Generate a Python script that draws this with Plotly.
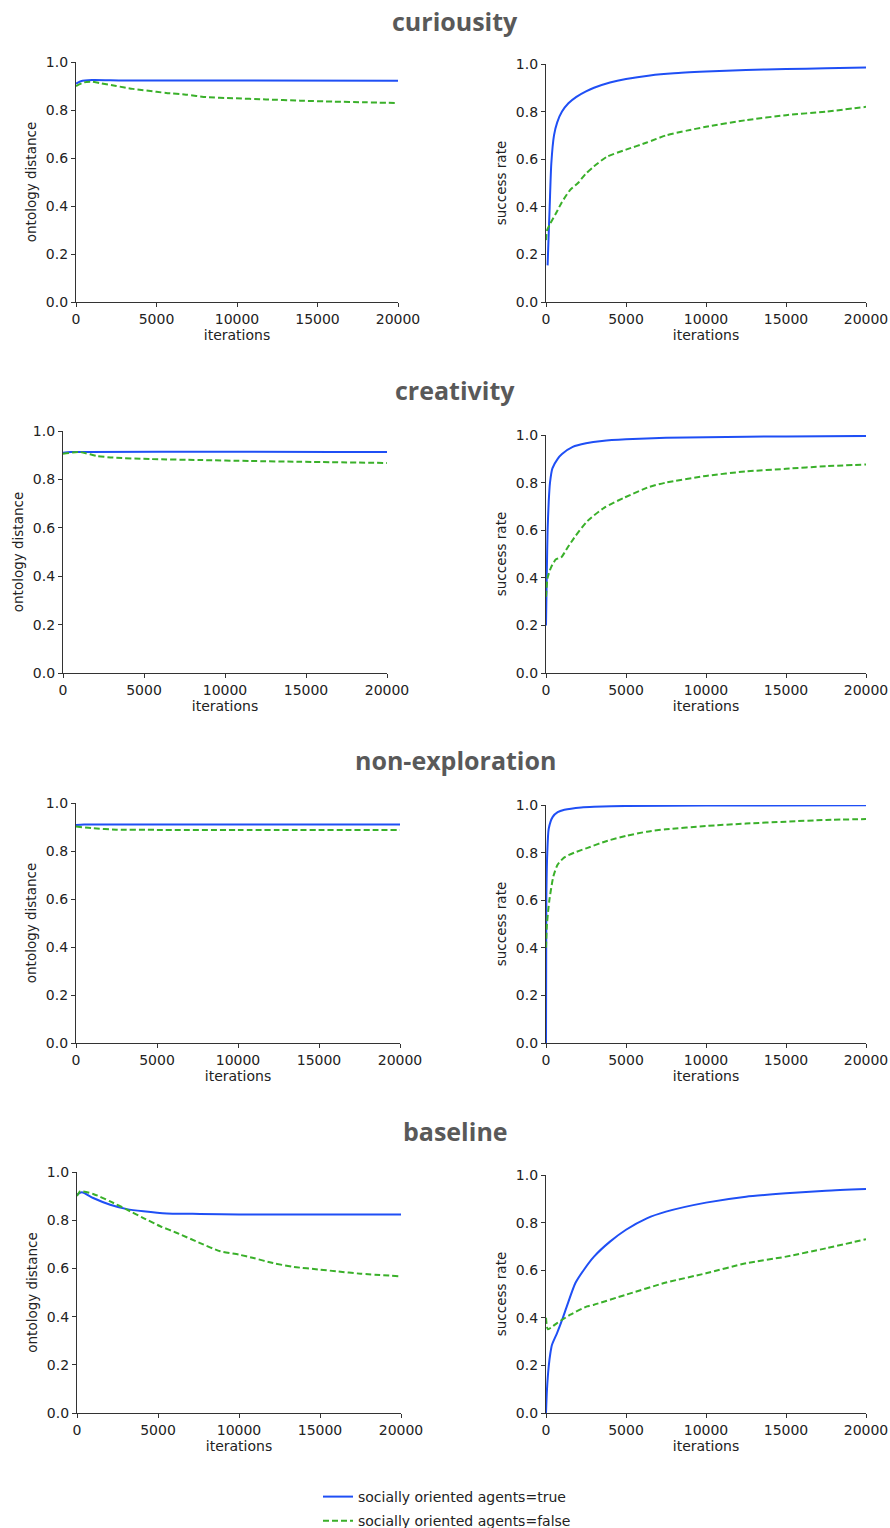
import plotly.graph_objects as go

W, H = 890, 1528

# ---------------- data ----------------
sections = ["curiousity", "creativity", "non-exploration", "baseline"]
series_names = ["socially oriented agents=true", "socially oriented agents=false"]
x_ticks = [0, 5000, 10000, 15000, 20000]
y_ticks = [0.0, 0.2, 0.4, 0.6, 0.8, 1.0]

# curiousity
cur_onto_true_x = [0, 300, 1000, 3000, 20000]
cur_onto_true_y = [0.91, 0.92, 0.925, 0.923, 0.922]
cur_onto_false_x = [0, 500, 1000, 1450, 2500, 3520, 5000, 5600, 6840, 8080, 9740, 11800, 13900, 15960, 18000, 20000]
cur_onto_false_y = [0.90, 0.915, 0.918, 0.912, 0.90, 0.888, 0.876, 0.871, 0.864, 0.854, 0.849, 0.844, 0.839, 0.835, 0.832, 0.829]
cur_succ_true_x = [100, 230, 330, 500, 700, 1000, 1400, 1900, 2500, 3000, 4000, 5000, 6500, 8000, 10000, 12500, 15000, 17500, 20000]
cur_succ_true_y = [0.154, 0.40, 0.58, 0.70, 0.755, 0.80, 0.835, 0.862, 0.885, 0.90, 0.922, 0.937, 0.952, 0.961, 0.968, 0.975, 0.979, 0.982, 0.985]
cur_succ_false_x = [0, 60, 270, 600, 1000, 1500, 2000, 2500, 3000, 3800, 5000, 6300, 7500, 8800, 10000, 12500, 15000, 17500, 20000]
cur_succ_false_y = [0.26, 0.30, 0.33, 0.37, 0.42, 0.47, 0.50, 0.54, 0.57, 0.61, 0.64, 0.67, 0.70, 0.72, 0.736, 0.764, 0.785, 0.80, 0.82]

# creativity
cre_onto_true_x = [0, 500, 20000]
cre_onto_true_y = [0.91, 0.913, 0.913]
cre_onto_false_x = [0, 1050, 2080, 3100, 5375, 8460, 11550, 14640, 20000]
cre_onto_false_y = [0.906, 0.913, 0.897, 0.89, 0.884, 0.880, 0.876, 0.873, 0.868]
cre_succ_true_x = [0, 50, 100, 170, 250, 400, 730, 1000, 1670, 2500, 3500, 5000, 7500, 10000, 15000, 20000]
cre_succ_true_y = [0.20, 0.42, 0.60, 0.72, 0.80, 0.86, 0.90, 0.92, 0.95, 0.965, 0.975, 0.982, 0.988, 0.991, 0.994, 0.996]
cre_succ_false_x = [0, 100, 310, 625, 940, 1350, 1770, 2600, 3650, 4900, 6460, 7500, 10000, 12500, 15000, 17500, 20000]
cre_succ_false_y = [0.32, 0.40, 0.443, 0.478, 0.485, 0.527, 0.569, 0.639, 0.695, 0.737, 0.782, 0.80, 0.828, 0.847, 0.858, 0.869, 0.876]

# non-exploration
non_onto_true_x = [0, 500, 20000]
non_onto_true_y = [0.908, 0.91, 0.91]
non_onto_false_x = [0, 1000, 2500, 5000, 10000, 20000]
non_onto_false_y = [0.902, 0.895, 0.889, 0.888, 0.888, 0.887]
non_succ_true_x = [0, 20, 80, 170, 420, 730, 1150, 2200, 3000, 5000, 10000, 20000]
non_succ_true_y = [0.0, 0.6, 0.8, 0.9, 0.95, 0.97, 0.98, 0.99, 0.993, 0.996, 0.998, 0.999]
non_succ_false_x = [0, 60, 210, 460, 730, 1150, 1770, 2600, 3850, 5000, 6300, 7500, 10000, 12500, 15000, 17500, 20000]
non_succ_false_y = [0.40, 0.50, 0.60, 0.70, 0.75, 0.78, 0.80, 0.82, 0.85, 0.87, 0.888, 0.898, 0.912, 0.922, 0.93, 0.937, 0.941]

# baseline
bas_onto_true_x = [0, 300, 1000, 2050, 3080, 4100, 5550, 7600, 10000, 20000]
bas_onto_true_y = [0.906, 0.916, 0.892, 0.864, 0.846, 0.837, 0.828, 0.826, 0.824, 0.824]
bas_onto_false_x = [0, 200, 1000, 2050, 3080, 4100, 5140, 6170, 7600, 8840, 10000, 10900, 12100, 13400, 15000, 16000, 17500, 20000]
bas_onto_false_y = [0.90, 0.92, 0.909, 0.878, 0.844, 0.809, 0.775, 0.747, 0.705, 0.671, 0.657, 0.643, 0.622, 0.606, 0.595, 0.588, 0.578, 0.567]
bas_succ_true_x = [0, 60, 170, 270, 375, 690, 1000, 1300, 1830, 2350, 3000, 4000, 5000, 6300, 7500, 10000, 12500, 15000, 17500, 20000]
bas_succ_true_y = [0.0, 0.098, 0.196, 0.25, 0.287, 0.336, 0.39, 0.448, 0.545, 0.60, 0.657, 0.72, 0.77, 0.818, 0.846, 0.884, 0.909, 0.923, 0.934, 0.941]
bas_succ_false_x = [0, 120, 690, 1520, 2560, 3000, 5000, 7500, 10000, 12500, 15000, 17500, 20000]
bas_succ_false_y = [0.40, 0.352, 0.378, 0.413, 0.448, 0.455, 0.497, 0.548, 0.587, 0.629, 0.657, 0.692, 0.73]

panels = [
    (cur_onto_true_x, cur_onto_true_y, cur_onto_false_x, cur_onto_false_y, "ontology distance"),
    (cur_succ_true_x, cur_succ_true_y, cur_succ_false_x, cur_succ_false_y, "success rate"),
    (cre_onto_true_x, cre_onto_true_y, cre_onto_false_x, cre_onto_false_y, "ontology distance"),
    (cre_succ_true_x, cre_succ_true_y, cre_succ_false_x, cre_succ_false_y, "success rate"),
    (non_onto_true_x, non_onto_true_y, non_onto_false_x, non_onto_false_y, "ontology distance"),
    (non_succ_true_x, non_succ_true_y, non_succ_false_x, non_succ_false_y, "success rate"),
    (bas_onto_true_x, bas_onto_true_y, bas_onto_false_x, bas_onto_false_y, "ontology distance"),
    (bas_succ_true_x, bas_succ_true_y, bas_succ_false_x, bas_succ_false_y, "success rate"),
]

# ---------------- layout (pixel boxes) ----------------
boxes = [
    (76, 398, 62, 302), (546, 866, 64, 302),
    (63, 387, 431, 673), (546, 866, 435, 673),
    (76, 400, 803, 1043), (546, 866, 805, 1043),
    (77, 401, 1172, 1413), (546, 866, 1175, 1413),
]
title_y = [21, 390, 760, 1131]


def px(v):
    return v / W


def py(v):
    return 1 - v / H


BLUE = "#1f4ff5"
GREEN = "#3ab02a"
AX = "#333333"
TXT = "#222222"
FONT = "DejaVu Sans"

fig = go.Figure()
layout = dict(
    width=W, height=H, margin=dict(l=0, r=0, t=0, b=0, autoexpand=False),
    paper_bgcolor="white", plot_bgcolor="white",
    font=dict(family=FONT, size=14, color=TXT),
    showlegend=True,
)

for i, ((tx, ty, fx, fy, ylab), (x0, x1, y0, y1)) in enumerate(zip(panels, boxes)):
    n = i + 1
    xa = "x" if n == 1 else f"x{n}"
    ya = "y" if n == 1 else f"y{n}"
    fig.add_trace(go.Scatter(x=tx, y=ty, mode="lines", xaxis=xa, yaxis=ya,
                             name=series_names[0], legendgroup="t", showlegend=(n == 1),
                             line=dict(color=BLUE, width=2, shape="spline", smoothing=0.6)))
    fig.add_trace(go.Scatter(x=fx, y=fy, mode="lines", xaxis=xa, yaxis=ya,
                             name=series_names[1], legendgroup="f", showlegend=(n == 1),
                             line=dict(color=GREEN, width=2, dash="6px,3px", shape="spline", smoothing=0.6)))
    common = dict(showline=True, linecolor=AX, linewidth=1.2, ticks="outside", ticklen=4,
                  tickwidth=1, tickcolor=AX, showgrid=False, zeroline=False, mirror=False,
                  automargin=False, tickfont=dict(family=FONT, size=14, color=TXT))
    layout["xaxis" if n == 1 else f"xaxis{n}"] = dict(
        common, domain=[px(x0), px(x1)], anchor=ya, range=[0, 20000], tickvals=x_ticks,
        ticktext=[str(v) for v in x_ticks],
        title=dict(text="iterations", font=dict(family=FONT, size=14, color=TXT), standoff=3))
    layout["yaxis" if n == 1 else f"yaxis{n}"] = dict(
        common, domain=[py(y1), py(y0)], anchor=xa, range=[0, 1], tickvals=y_ticks,
        ticktext=[f"{v:.1f}" for v in y_ticks],
        title=dict(text=ylab, font=dict(family=FONT, size=13.5, color=TXT), standoff=6))

layout["annotations"] = [
    dict(text=f"<b>{s}</b>", x=px(455), y=py(ty_), xref="paper", yref="paper",
         showarrow=False, xanchor="center", yanchor="middle",
         font=dict(family="Open Sans", size=25, color="#595959"))
    for s, ty_ in zip(sections, title_y)
]
layout["legend"] = dict(x=px(318), y=py(1481), xanchor="left", yanchor="top",
                        font=dict(family=FONT, size=14, color=TXT),
                        bgcolor="rgba(0,0,0,0)", tracegroupgap=3)
fig.update_layout(**layout)

# remove the page's default body margin so the figure fills the window exactly
page_style = ("document.documentElement.style.overflow='hidden';"
              "document.body.style.margin='0';"
              "document.body.style.overflow='hidden';")
fig.write_html("out.html", post_script=page_style, config={"displayModeBar": False})
